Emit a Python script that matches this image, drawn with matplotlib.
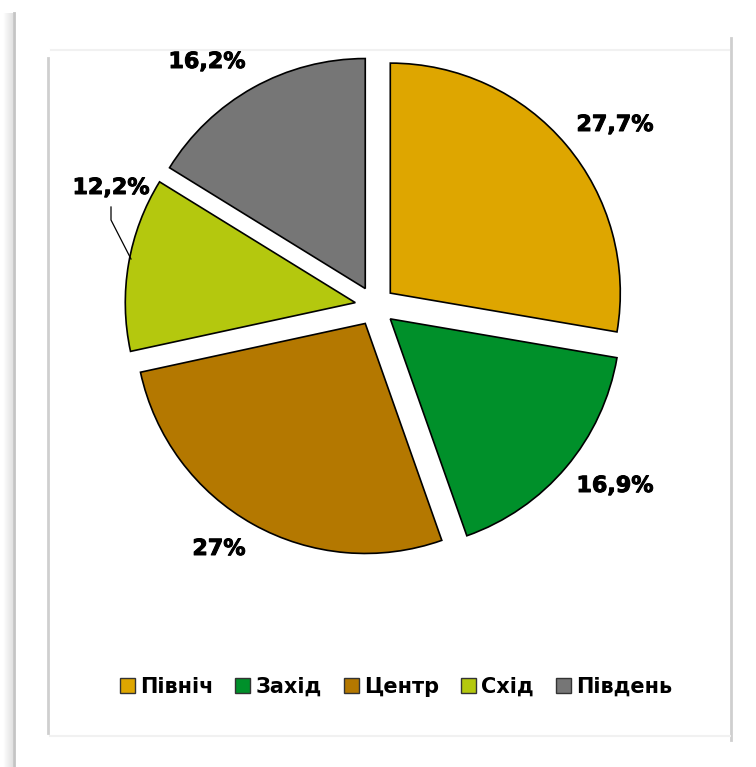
import numpy as np
import matplotlib.pyplot as plt
import matplotlib.patheffects as pe
from matplotlib.patches import Patch

# частки регіонів, %
regions = ["Північ", "Захід", "Центр", "Схід", "Південь"]
shares = [27.7, 16.9, 27.0, 12.2, 16.2]
labels = ["27,7%", "16,9%", "27%", "12,2%", "16,2%"]
colors = ["#DEA600", "#00902A", "#B47800", "#B4C80E", "#767676"]

W, H = 756, 767
fig = plt.figure(figsize=(W / 100, H / 100), dpi=100)
ax = fig.add_axes([0, 0, 1, 1])

# кругова діаграма з розсунутими секторами (explode у тих самих одиницях, що й radius)
wedges, _ = ax.pie(shares, colors=colors, startangle=90, counterclock=False,
                   explode=[20] * len(shares), center=(375, H - 306), radius=230,
                   wedgeprops=dict(edgecolor="black", linewidth=1.2))

# підписи відсотків (трохи товщі за звичайний bold)
label_pos = [(615, 125), (615, 486), (219, 549), (111, 188), (207, 62)]
for txt, (x, y) in zip(labels, label_pos):
    ax.text(x, H - y, txt, ha="center", va="center", fontsize=16,
            fontweight="bold", family="DejaVu Sans",
            path_effects=[pe.withStroke(linewidth=0.7, foreground="black")])

# виноска для "Схід"
ax.plot([111, 111, 131], [H - 207, H - 220, H - 259], color="black", lw=0.9)

# рамка області діаграми
ax.plot([48, 48], [H - 58, H - 733], color="#cfcfcf", lw=2)
ax.plot([731, 731], [H - 38, H - 740], color="#cfcfcf", lw=2)
ax.plot([51, 729], [H - 50, H - 50], color="#f1f1f1", lw=1.5)
ax.plot([50, 730], [H - 736, H - 736], color="#f1f1f1", lw=1.5)

# тінь і лінія зліва
grad = np.linspace(1.0, 0.88, 40).reshape(1, -1)
ax.imshow(grad, extent=[3, 13, 0, H - 13], cmap="gray", vmin=0, vmax=1,
          aspect="auto", zorder=0)
ax.plot([14, 14], [0, H - 13], color="#c4c4c4", lw=2)

ax.set_xlim(0, W)
ax.set_ylim(0, H)
ax.set_aspect("equal")
ax.axis("off")

# легенда
handles = [Patch(facecolor=c, edgecolor="#333333", lw=1.0) for c in colors]
fig.legend(handles, regions, loc="center", bbox_to_anchor=(396 / W, 1 - 687 / H),
           ncol=5, frameon=False, handlelength=0.72, handleheight=0.72,
           handletextpad=0.25, columnspacing=1.05,
           prop=dict(family="DejaVu Sans", weight="bold", size=15))

fig.savefig("out.png", dpi=100, facecolor="white")
plt.close(fig)
